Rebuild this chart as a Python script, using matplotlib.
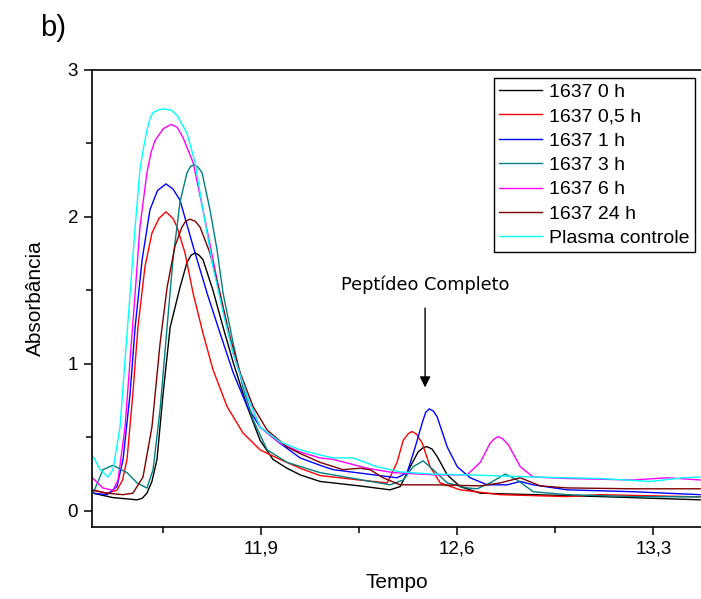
import matplotlib
matplotlib.use('Agg')
import matplotlib.pyplot as plt
from matplotlib.ticker import MultipleLocator, FuncFormatter

plt.rcParams['font.family'] = ['Liberation Sans', 'DejaVu Sans']

# Chromatogram traces (time, absorbance)
t_0h = [11.30, 11.371, 11.457, 11.475, 11.492, 11.510, 11.528, 11.550, 11.575, 11.610,
        11.635, 11.650, 11.664, 11.678, 11.692, 11.728, 11.764, 11.800, 11.850, 11.896,
        11.942, 11.992, 12.039, 12.110, 12.25, 12.360, 12.396, 12.432, 12.460, 12.478,
        12.492, 12.510, 12.528, 12.564, 12.610, 12.682, 12.871, 13.110, 13.467]
a_0h = [0.12, 0.09, 0.075, 0.085, 0.12, 0.20, 0.35, 0.80, 1.25, 1.52,
        1.69, 1.74, 1.755, 1.74, 1.71, 1.50, 1.25, 1.01, 0.71, 0.48,
        0.35, 0.29, 0.245, 0.20, 0.17, 0.143, 0.165, 0.30, 0.40, 0.43,
        0.437, 0.42, 0.37, 0.245, 0.165, 0.12, 0.11, 0.097, 0.075]

t_05h = [11.30, 11.350, 11.385, 11.405, 11.421, 11.442, 11.460, 11.485, 11.510, 11.535,
         11.560, 11.585, 11.600, 11.628, 11.657, 11.692, 11.728, 11.778, 11.835, 11.896,
         11.967, 12.039, 12.110, 12.25, 12.350, 12.385, 12.407, 12.425, 12.439, 12.455,
         12.475, 12.503, 12.539, 12.610, 12.753, 12.992, 13.110, 13.467]
a_05h = [0.14, 0.12, 0.14, 0.21, 0.35, 0.80, 1.25, 1.66, 1.89, 1.99,
         2.035, 1.99, 1.93, 1.755, 1.48, 1.21, 0.96, 0.71, 0.53, 0.415,
         0.35, 0.29, 0.24, 0.21, 0.19, 0.33, 0.48, 0.525, 0.54, 0.52,
         0.46, 0.30, 0.19, 0.143, 0.11, 0.097, 0.11, 0.095]

t_1h = [11.30, 11.350, 11.385, 11.407, 11.432, 11.450, 11.475, 11.503, 11.530, 11.560,
        11.585, 11.610, 11.657, 11.707, 11.753, 11.800, 11.850, 11.896, 11.967, 12.039,
        12.110, 12.157, 12.385, 12.421, 12.450, 12.475, 12.487, 12.500, 12.514, 12.528,
        12.564, 12.600, 12.646, 12.707, 12.778, 12.825, 12.871, 12.992, 13.228, 13.467]
a_1h = [0.12, 0.11, 0.165, 0.35, 0.80, 1.25, 1.71, 2.05, 2.18, 2.225,
        2.19, 2.115, 1.80, 1.48, 1.21, 0.94, 0.71, 0.57, 0.46, 0.36,
        0.31, 0.28, 0.225, 0.26, 0.435, 0.60, 0.67, 0.694, 0.68, 0.64,
        0.435, 0.30, 0.225, 0.177, 0.177, 0.20, 0.177, 0.143, 0.13, 0.11]

t_3h = [11.30, 11.335, 11.371, 11.421, 11.457, 11.492, 11.514, 11.539, 11.564, 11.585,
        11.610, 11.635, 11.648, 11.660, 11.674, 11.689, 11.717, 11.742, 11.764, 11.800,
        11.835, 11.871, 11.921, 11.992, 12.110, 12.360, 12.407, 12.442, 12.478, 12.514,
        12.564, 12.635, 12.671, 12.717, 12.771, 12.814, 12.871, 12.992, 13.228, 13.467]
a_3h = [0.12, 0.28, 0.31, 0.26, 0.19, 0.155, 0.28, 0.69, 1.25, 1.71,
        2.10, 2.30, 2.345, 2.355, 2.34, 2.30, 2.05, 1.78, 1.48, 1.14,
        0.84, 0.62, 0.415, 0.33, 0.26, 0.177, 0.21, 0.30, 0.34, 0.28,
        0.19, 0.156, 0.15, 0.19, 0.25, 0.21, 0.13, 0.11, 0.097, 0.095]

t_6h = [11.30, 11.335, 11.371, 11.389, 11.414, 11.432, 11.450, 11.467, 11.492, 11.507,
        11.521, 11.550, 11.578, 11.600, 11.621, 11.657, 11.692, 11.728, 11.764, 11.800,
        11.850, 11.896, 11.967, 12.039, 12.110, 12.157, 12.278, 12.371, 12.514, 12.635,
        12.682, 12.717, 12.732, 12.746, 12.762, 12.782, 12.825, 12.871, 12.992, 13.228,
        13.350, 13.467]
a_6h = [0.22, 0.155, 0.14, 0.21, 0.57, 1.03, 1.48, 1.93, 2.30, 2.44,
        2.52, 2.60, 2.63, 2.61, 2.54, 2.37, 2.05, 1.71, 1.37, 1.07,
        0.78, 0.57, 0.46, 0.40, 0.36, 0.35, 0.29, 0.26, 0.245, 0.245,
        0.33, 0.46, 0.49, 0.505, 0.49, 0.45, 0.30, 0.23, 0.22, 0.21,
        0.225, 0.21]

t_24h = [11.30, 11.350, 11.407, 11.442, 11.478, 11.510, 11.539, 11.564, 11.592, 11.617,
         11.630, 11.646, 11.665, 11.682, 11.717, 11.753, 11.789, 11.825, 11.871, 11.921,
         11.992, 12.039, 12.110, 12.192, 12.253, 12.289, 12.335, 12.396, 12.514, 12.682,
         12.753, 12.825, 12.896, 12.992, 13.228, 13.467]
a_24h = [0.14, 0.12, 0.11, 0.12, 0.23, 0.57, 1.14, 1.52, 1.80, 1.93,
         1.97, 1.985, 1.97, 1.93, 1.755, 1.48, 1.18, 0.94, 0.71, 0.55,
         0.435, 0.39, 0.33, 0.28, 0.29, 0.28, 0.225, 0.177, 0.177, 0.17,
         0.19, 0.225, 0.17, 0.156, 0.15, 0.15]

t_plasma = [11.30, 11.325, 11.353, 11.371, 11.396, 11.414, 11.432, 11.450, 11.467, 11.480,
            11.492, 11.503, 11.514, 11.535, 11.557, 11.580, 11.600, 11.635, 11.664, 11.692,
            11.728, 11.764, 11.800, 11.850, 11.896, 11.967, 12.039, 12.110, 12.157, 12.228,
            12.314, 12.396, 12.514, 12.635, 12.871, 13.110, 13.289, 13.407, 13.467]
a_plasma = [0.37, 0.28, 0.23, 0.28, 0.57, 1.03, 1.48, 1.93, 2.32, 2.47,
            2.59, 2.67, 2.71, 2.73, 2.735, 2.725, 2.69, 2.57, 2.37, 2.05,
            1.66, 1.35, 1.07, 0.78, 0.57, 0.47, 0.415, 0.38, 0.36, 0.36,
            0.30, 0.265, 0.25, 0.245, 0.23, 0.22, 0.20, 0.225, 0.23]

series = [
    (t_0h, a_0h, '1637 0 h', '#000000'),
    (t_05h, a_05h, '1637 0,5 h', '#ff0000'),
    (t_1h, a_1h, '1637 1 h', '#0000ff'),
    (t_3h, a_3h, '1637 3 h', '#008080'),
    (t_6h, a_6h, '1637 6 h', '#ff00ff'),
    (t_24h, a_24h, '1637 24 h', '#800000'),
    (t_plasma, a_plasma, 'Plasma controle', '#00ffff'),
]

fig = plt.figure(figsize=(7.01, 5.99), dpi=100)
ax = fig.add_axes([92 / 701, 72 / 599, 609 / 701, 457 / 599])

for t, a, lab, col in series:
    ax.plot(t, a, color=col, lw=1.0, label=lab)

ax.set_xlim(11.296, 13.47)
ax.set_ylim(-0.11, 3.0)

ax.xaxis.set_major_locator(MultipleLocator(0.7))
ax.xaxis.set_minor_locator(MultipleLocator(0.35))
ax.yaxis.set_major_locator(MultipleLocator(1))
ax.yaxis.set_minor_locator(MultipleLocator(0.5))
ax.xaxis.set_major_formatter(FuncFormatter(lambda v, p: ('%.1f' % v).replace('.', ',')))
ax.yaxis.set_major_formatter(FuncFormatter(lambda v, p: '%d' % round(v)))

ax.tick_params(which='major', direction='out', length=6, width=1.1, labelsize=13.5, pad=4)
ax.tick_params(which='minor', direction='out', length=4, width=1.1)
ax.tick_params(top=False, right=False)
ax.spines['right'].set_visible(False)
for s in ['left', 'top', 'bottom']:
    ax.spines[s].set_linewidth(1.2)

ax.set_xlabel('Tempo', fontsize=15, labelpad=11)
ax.set_ylabel('Absorbância', fontsize=15, labelpad=16)

leg = ax.legend(loc='upper left', bbox_to_anchor=(0.660, 0.982), fontsize=14,
                frameon=True, fancybox=False, framealpha=1, edgecolor='black',
                handlelength=2.2, handletextpad=0.4, labelspacing=0.35,
                borderpad=0.25, borderaxespad=0)
leg.get_frame().set_linewidth(1.0)

ax.annotate('', xy=(12.485, 0.84), xytext=(12.485, 1.38),
            arrowprops=dict(arrowstyle='-|>', color='black', lw=1.0,
                            mutation_scale=16, shrinkA=0, shrinkB=0))
ax.text(12.485, 1.537, 'Peptídeo Completo', ha='center', va='center',
        fontsize=12.8, family='DejaVu Sans')

fig.text(40 / 701, 1 - 14 / 599, 'b)', fontsize=21, ha='left', va='top')

fig.savefig('out.png', dpi=100)
